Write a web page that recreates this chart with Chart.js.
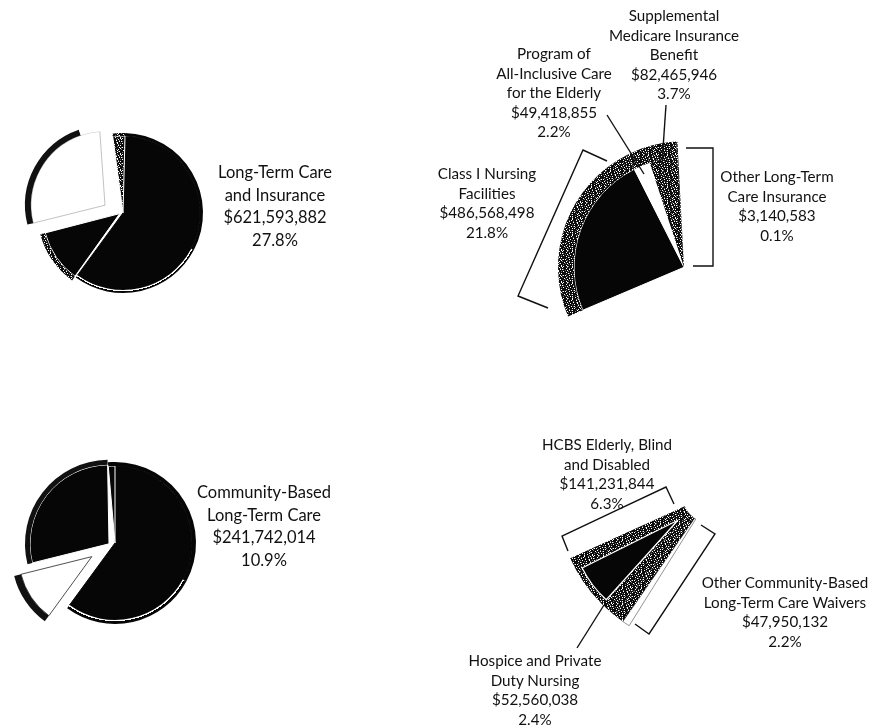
<!DOCTYPE html>
<html>
<head>
<meta charset="utf-8">
<title>Long-term care spending</title>
<script src="https://cdn.jsdelivr.net/npm/chart.js@4"></script>
<style>
    html, body { margin: 0; padding: 0; background: #fff; }
    #page { position: relative; width: 874px; height: 728px; overflow: hidden; }
    #page canvas { position: absolute; }
    #lines { position: absolute; left: 0; top: 0; }
    .label { position: absolute; text-align: center; white-space: nowrap; color: #111;
             font-family: Lato, sans-serif; transform: translateX(-50%); }
    .big { font-size: 16.5px; line-height: 22.6px; }
    .small { font-size: 15.2px; line-height: 19.6px; }
</style>
</head>
<body>
<div id="page">
    <svg id="lines" width="874" height="728"></svg>
</div>
<script>
// overview pies, share of total (%)
var overviewCategories = ['Other programs', 'Community-Based Long-Term Care', 'Long-Term Care and Insurance', 'Remainder'];
var topLeftValues = [61, 10.9, 27.8, 2.6];
var topLeftRim = [33, 28, 10.9, 27.8, 2.6];
var bottomLeftValues = [60.3, 10.9, 27.8, 1.4];
var bottomLeftRim = [33, 27.3, 10.9, 27.8, 1.4];
var wedgeRim = [23.6, 4.2];

// detail pies, dollars
var longTermCategories = ['Class I Nursing Facilities', 'Program of All-Inclusive Care for the Elderly', 'Supplemental Medicare Insurance Benefit', 'Other Long-Term Care Insurance'];
var longTermValues = [486568498, 49418855, 82465946, 3140583];
var communityCategories = ['Other Community-Based Long-Term Care Waivers', 'Other Community-Based Long-Term Care Waivers', 'Hospice and Private Duty Nursing', 'HCBS Elderly, Blind and Disabled'];
var communityValues = [20000000, 27950132, 52560038, 141231844];

var labels = [
    { cls: 'big', x: 275, y: 161, lines: ['Long-Term Care', 'and Insurance', '$621,593,882', '27.8%'] },
    { cls: 'big', x: 264, y: 481, lines: ['Community-Based', 'Long-Term Care', '$241,742,014', '10.9%'] },
    { cls: 'small', x: 674, y: 6, lines: ['Supplemental', 'Medicare Insurance', 'Benefit', '$82,465,946', '3.7%'] },
    { cls: 'small', x: 554, y: 44, lines: ['Program of', 'All-Inclusive Care', 'for the Elderly', '$49,418,855', '2.2%'] },
    { cls: 'small', x: 487, y: 164, lines: ['Class I Nursing', 'Facilities', '$486,568,498', '21.8%'] },
    { cls: 'small', x: 777, y: 167, lines: ['Other Long-Term', 'Care Insurance', '$3,140,583', '0.1%'] },
    { cls: 'small', x: 607, y: 435, lines: ['HCBS Elderly, Blind', 'and Disabled', '$141,231,844', '6.3%'] },
    { cls: 'small', x: 785, y: 573, lines: ['Other Community-Based', 'Long-Term Care Waivers', '$47,950,132', '2.2%'] },
    { cls: 'small', x: 535, y: 651, lines: ['Hospice and Private', 'Duty Nursing', '$52,560,038', '2.4%'] }
];

// leader lines and brackets
var callouts = [
    '666,105 662,163',
    '607,115 644,174',
    '607,161 583,150 518,296 548,308',
    '686,148 713,148 713,266 693,266',
    '568,551 562,536 666,487 674,504',
    '635,624 649,634 715,534 701,525',
    '604,605 577,648'
];

// speckled fill, fixed tile
function stipple(rows) {
    var tile = document.createElement('canvas');
    tile.width = rows[0].length;
    tile.height = rows.length;
    var c = tile.getContext('2d');
    rows.forEach(function(row, y) {
        row.split('').forEach(function(ch, x) {
            c.fillStyle = ch == '#' ? '#0c0c0c' : ch == '+' ? '#777' : '#fff';
            c.fillRect(x, y, 1, 1);
        });
    });
    return c.createPattern(tile, 'repeat');
}
var speckle = stipple([
    '##+####.###+#.##.##',
    '#.##+#.####.##+####',
    '####.###+#####.#.+#',
    '+#.#####.##+.######',
    '###+#.######.##+#.#',
    '#.#####+#.###+#####',
    '###.+########.#.###',
    '#+####.#+.##+######',
    '.###.#####+###.#+.#',
    '##+####.#.#####.###',
    '#.##+######+#.##+##',
    '####.#+.####.#####.',
    '+#.#######+##+.####',
    '###+#.#.####.####+#',
    '#.#####+##.####.###',
    '##.+###.####+##.#.#'
]);

var black = '#060606';
var clear = 'rgba(0,0,0,0)';
var EDGE = 'edge';

// canvas is moved so the apex of the pie lands on the wanted spot
function pie(o) {
    var canvas = document.createElement('canvas');
    canvas.width = 340;
    canvas.height = 340;
    document.getElementById('page').appendChild(canvas);
    var ctx = canvas.getContext('2d');
    var rimColors = o.rimColors || [clear];
    var chart = new Chart(ctx, {
        type: 'pie',
        data: {
            labels: o.categories,
            datasets: [
                { data: o.rimValues || o.values, weight: o.rim || 0, backgroundColor: rimColors, borderWidth: 0 },
                { data: o.values, weight: o.radius - (o.rim || 0), backgroundColor: o.colors,
                  borderColor: o.borderColors || '#fff', borderWidth: o.borders || 0 }
            ]
        },
        options: {
            responsive: false,
            animation: false,
            devicePixelRatio: 1,
            rotation: o.rotation,
            circumference: o.circumference,
            radius: o.radius,
            cutout: o.cutout || 0,
            plugins: { legend: { display: false }, tooltip: { enabled: false } }
        }
    });
    var arc = chart.getDatasetMeta(0).data[0];
    canvas.style.left = (o.x - arc.x) + 'px';
    canvas.style.top = (o.y - arc.y) + 'px';

    // thin white line just inside the dark outer edge
    if (rimColors.indexOf(EDGE) >= 0) {
        var edge = ctx.createRadialGradient(arc.x, arc.y, 0, arc.x, arc.y, o.radius);
        var from = (o.radius - o.rim) / o.radius;
        var to = (o.radius - o.rim + 1.2) / o.radius;
        edge.addColorStop(from, '#fff');
        edge.addColorStop(to, '#fff');
        edge.addColorStop(to, black);
        edge.addColorStop(1, black);
        chart.data.datasets[0].backgroundColor = rimColors.map(function(c) { return c == EDGE ? edge : c; });
        chart.update();
    }
}

pie({
    categories: overviewCategories, values: topLeftValues, rimValues: topLeftRim,
    x: 123, y: 213, radius: 80, rim: 3, rotation: 1.5, circumference: 360,
    colors: [black, clear, clear, speckle],
    rimColors: [black, EDGE, clear, clear, speckle],
    borderColors: [black, clear, clear, '#fff'],
    borders: [1, 0, 0, 1]
});
pie({
    categories: [overviewCategories[1]], values: [topLeftValues[1]],
    x: 120, y: 214, radius: 82, rim: 5, rotation: 215.5, circumference: 40,
    colors: [black], rimColors: [speckle], borders: [1]
});
pie({
    categories: [overviewCategories[2]], values: [topLeftValues[2]], rimValues: wedgeRim,
    x: 105, y: 205, radius: 80, rim: 6, rotation: 256, circumference: 100,
    colors: ['#fff'], rimColors: ['#111', '#fff'],
    borderColors: ['#999'], borders: [0.6]
});
pie({
    categories: overviewCategories, values: bottomLeftValues, rimValues: bottomLeftRim,
    x: 115, y: 543, radius: 81, rim: 4, rotation: 0, circumference: 360,
    colors: [black, clear, clear, black],
    rimColors: [black, EDGE, clear, clear, black],
    borderColors: [black, clear, clear, '#fff'],
    borders: [1, 0, 0, 1]
});
pie({
    categories: [overviewCategories[2]], values: [bottomLeftValues[2]],
    x: 109, y: 544, radius: 84, rim: 5, rotation: 256, circumference: 103,
    colors: [black], rimColors: ['#111'], borders: [1]
});
pie({
    categories: [overviewCategories[1]], values: [bottomLeftValues[1]],
    x: 92, y: 557, radius: 80, rim: 7, rotation: 216, circumference: 40,
    colors: ['#fff'], rimColors: ['#111'],
    borderColors: ['#222'], borders: [0.8]
});
pie({
    categories: longTermCategories, values: longTermValues,
    x: 684, y: 267, radius: 126, rim: 16, rotation: 247, circumference: 110,
    colors: [black, '#fff', speckle, speckle],
    rimColors: [speckle, speckle, speckle, speckle],
    borders: [1, 0, 0, 0]
});
// lower right is drawn in perspective, the black slice has its own apex
pie({
    categories: communityCategories, values: communityValues,
    x: 711, y: 494, radius: 155, cutout: 32, rotation: 212, circumference: 33.6,
    colors: ['#fff', speckle, speckle, speckle],
    borderColors: ['#777', clear, clear, clear], borders: [0.8, 0, 0, 0]
});
pie({
    categories: [communityCategories[3]], values: [communityValues[3]],
    x: 678, y: 520, radius: 107, rotation: 222, circumference: 21.5,
    colors: [black], borders: [1.2]
});

var page = document.getElementById('page');
labels.forEach(function(item) {
    var div = document.createElement('div');
    div.className = 'label ' + item.cls;
    div.style.left = item.x + 'px';
    div.style.top = item.y + 'px';
    div.innerHTML = item.lines.join('<br>');
    page.appendChild(div);
});

var svg = document.getElementById('lines');
callouts.forEach(function(points) {
    var line = document.createElementNS('http://www.w3.org/2000/svg', 'polyline');
    line.setAttribute('points', points);
    line.setAttribute('fill', 'none');
    line.setAttribute('stroke', '#111');
    line.setAttribute('stroke-width', '1.4');
    svg.appendChild(line);
});
page.appendChild(svg);
</script>
</body>
</html>
